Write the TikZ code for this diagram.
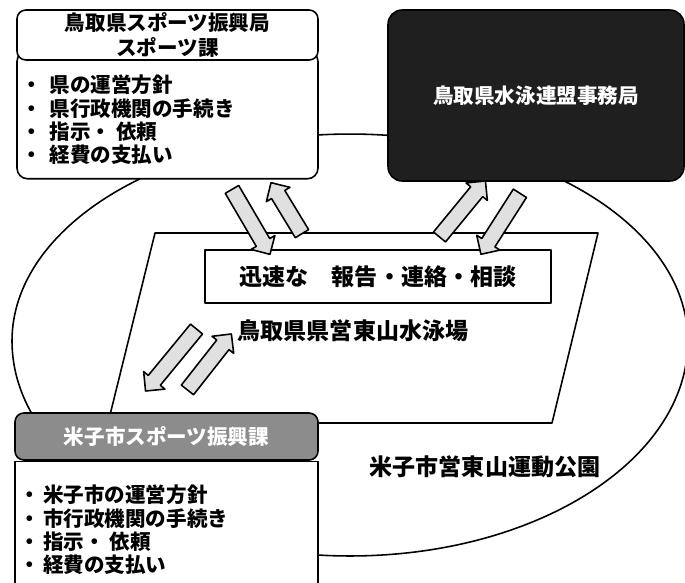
\documentclass[tikz,border=0pt]{standalone}
\usepackage{fontspec}
\setmainfont{Noto Sans CJK JP}
\usetikzlibrary{shapes,arrows,calc,positioning}
\tikzset{
  hdrbox/.style ={draw, line width=0.9pt, rounded corners=5pt, align=center, inner sep=0pt,
    font=\bfseries\fontsize{11.7}{14.5}\selectfont},
  bodybox/.style ={draw, line width=0.9pt, fill=white, inner sep=0pt},
  listtext/.style ={align=left, inner sep=0pt, font=\bfseries\fontsize{11.7}{13.2}\selectfont},
  biglabel/.style ={font=\bfseries\fontsize{13.1}{15}\selectfont},
  barrow/.style ={draw, line width=0.9pt, fill=black!12, single arrow, inner sep=0pt,
    text height=0.28cm, text depth=0pt, single arrow head extend=0.12cm}
}
\newcommand\blockarrow[2]{%
  \path let \p1=(#1), \p2=(#2), \n1={atan2(\y2-\y1,\x2-\x1)}, \n2={veclen(\x2-\x1,\y2-\y1)} in
    node[barrow, minimum height=\n2, rotate=\n1] at ($(#1)!0.5!(#2)$) {};}

\begin{document}
\begin{tikzpicture}[x=0.02cm,y=-0.02cm,line join=round]
\useasboundingbox (0,0) rectangle (685,582);
% park and pool
\coordinate (parkc) at (350,341);
\draw[line width=0.9pt] (parkc) ++(-338,0) arc[start angle=180, end angle=0, x radius=6.76cm, y radius=4.14cm]
  arc[start angle=0, end angle=-180, x radius=6.76cm, y radius=4.3cm];
\draw[line width=0.9pt] (155,233) -- (598,233) -- (552,423) -- (108,423) -- cycle;

% prefecture
\node[bodybox, rounded corners=6pt, minimum width=6.02cm, minimum height=2.56cm, anchor=north] (kenbody) at (167.5,50) {};
\node[hdrbox, fill=white, minimum width=6.02cm, minimum height=1cm] (kenhdr) at (167.5,35) {鳥取県スポーツ振興局\\スポーツ課};
\node[listtext, anchor=north west] (kenlist) at ([xshift=0.1cm,yshift=-0.28cm]kenhdr.south west)
  {・\hspace{0.15cm}県の運営方針\\・\hspace{0.15cm}県行政機関の手続き\\・\hspace{0.15cm}指示・ 依頼\\・\hspace{0.15cm}経費の支払い};

% swimming federation
\node[hdrbox, fill=black!88, text=white, rounded corners=8pt, minimum width=5.92cm, minimum height=3.42cm] (renmei) at (536,95.5) {鳥取県水泳連盟事務局};

% city
\node[hdrbox, fill=black!45, text=white, minimum width=6.06cm, minimum height=0.94cm] (shihdr) at (166.5,436.5) {米子市スポーツ振興課};
\node[bodybox, minimum width=6.06cm, minimum height=2.7cm, below=0pt of shihdr] (shibody) {};
\node[listtext, anchor=north west] (shilist) at ([xshift=0.1cm,yshift=-0.48cm]shibody.north west)
  {・\hspace{0.06cm}米子市の運営方針\\・\hspace{0.06cm}市行政機関の手続き\\・\hspace{0.06cm}指示・ 依頼\\・\hspace{0.06cm}経費の支払い};

\node[draw, line width=0.9pt, fill=white, minimum width=6.92cm, minimum height=1.06cm, biglabel] (hourensou) at (378,276.5) {迅速な\quad 報告・連絡・相談};
\node[biglabel] (suieijo) at (353,331) {鳥取県県営東山水泳場};
\node[biglabel] (koen) at (485,467) {米子市営東山運動公園};

% arrows
\coordinate (a1s) at (230,186); \coordinate (a1e) at (268,251);
\coordinate (a2s) at (304,237); \coordinate (a2e) at (273,186);
\coordinate (b1s) at (437,240); \coordinate (b1e) at (483,184);
\coordinate (b2s) at (522,190); \coordinate (b2e) at (483,251);
\coordinate (c1s) at (199,326); \coordinate (c1e) at (148,388);
\coordinate (c2s) at (185,393); \coordinate (c2e) at (229,337);
\blockarrow{a1s}{a1e}
\blockarrow{a2s}{a2e}
\blockarrow{b1s}{b1e}
\blockarrow{b2s}{b2e}
\blockarrow{c1s}{c1e}
\blockarrow{c2s}{c2e}
\end{tikzpicture}
\end{document}
